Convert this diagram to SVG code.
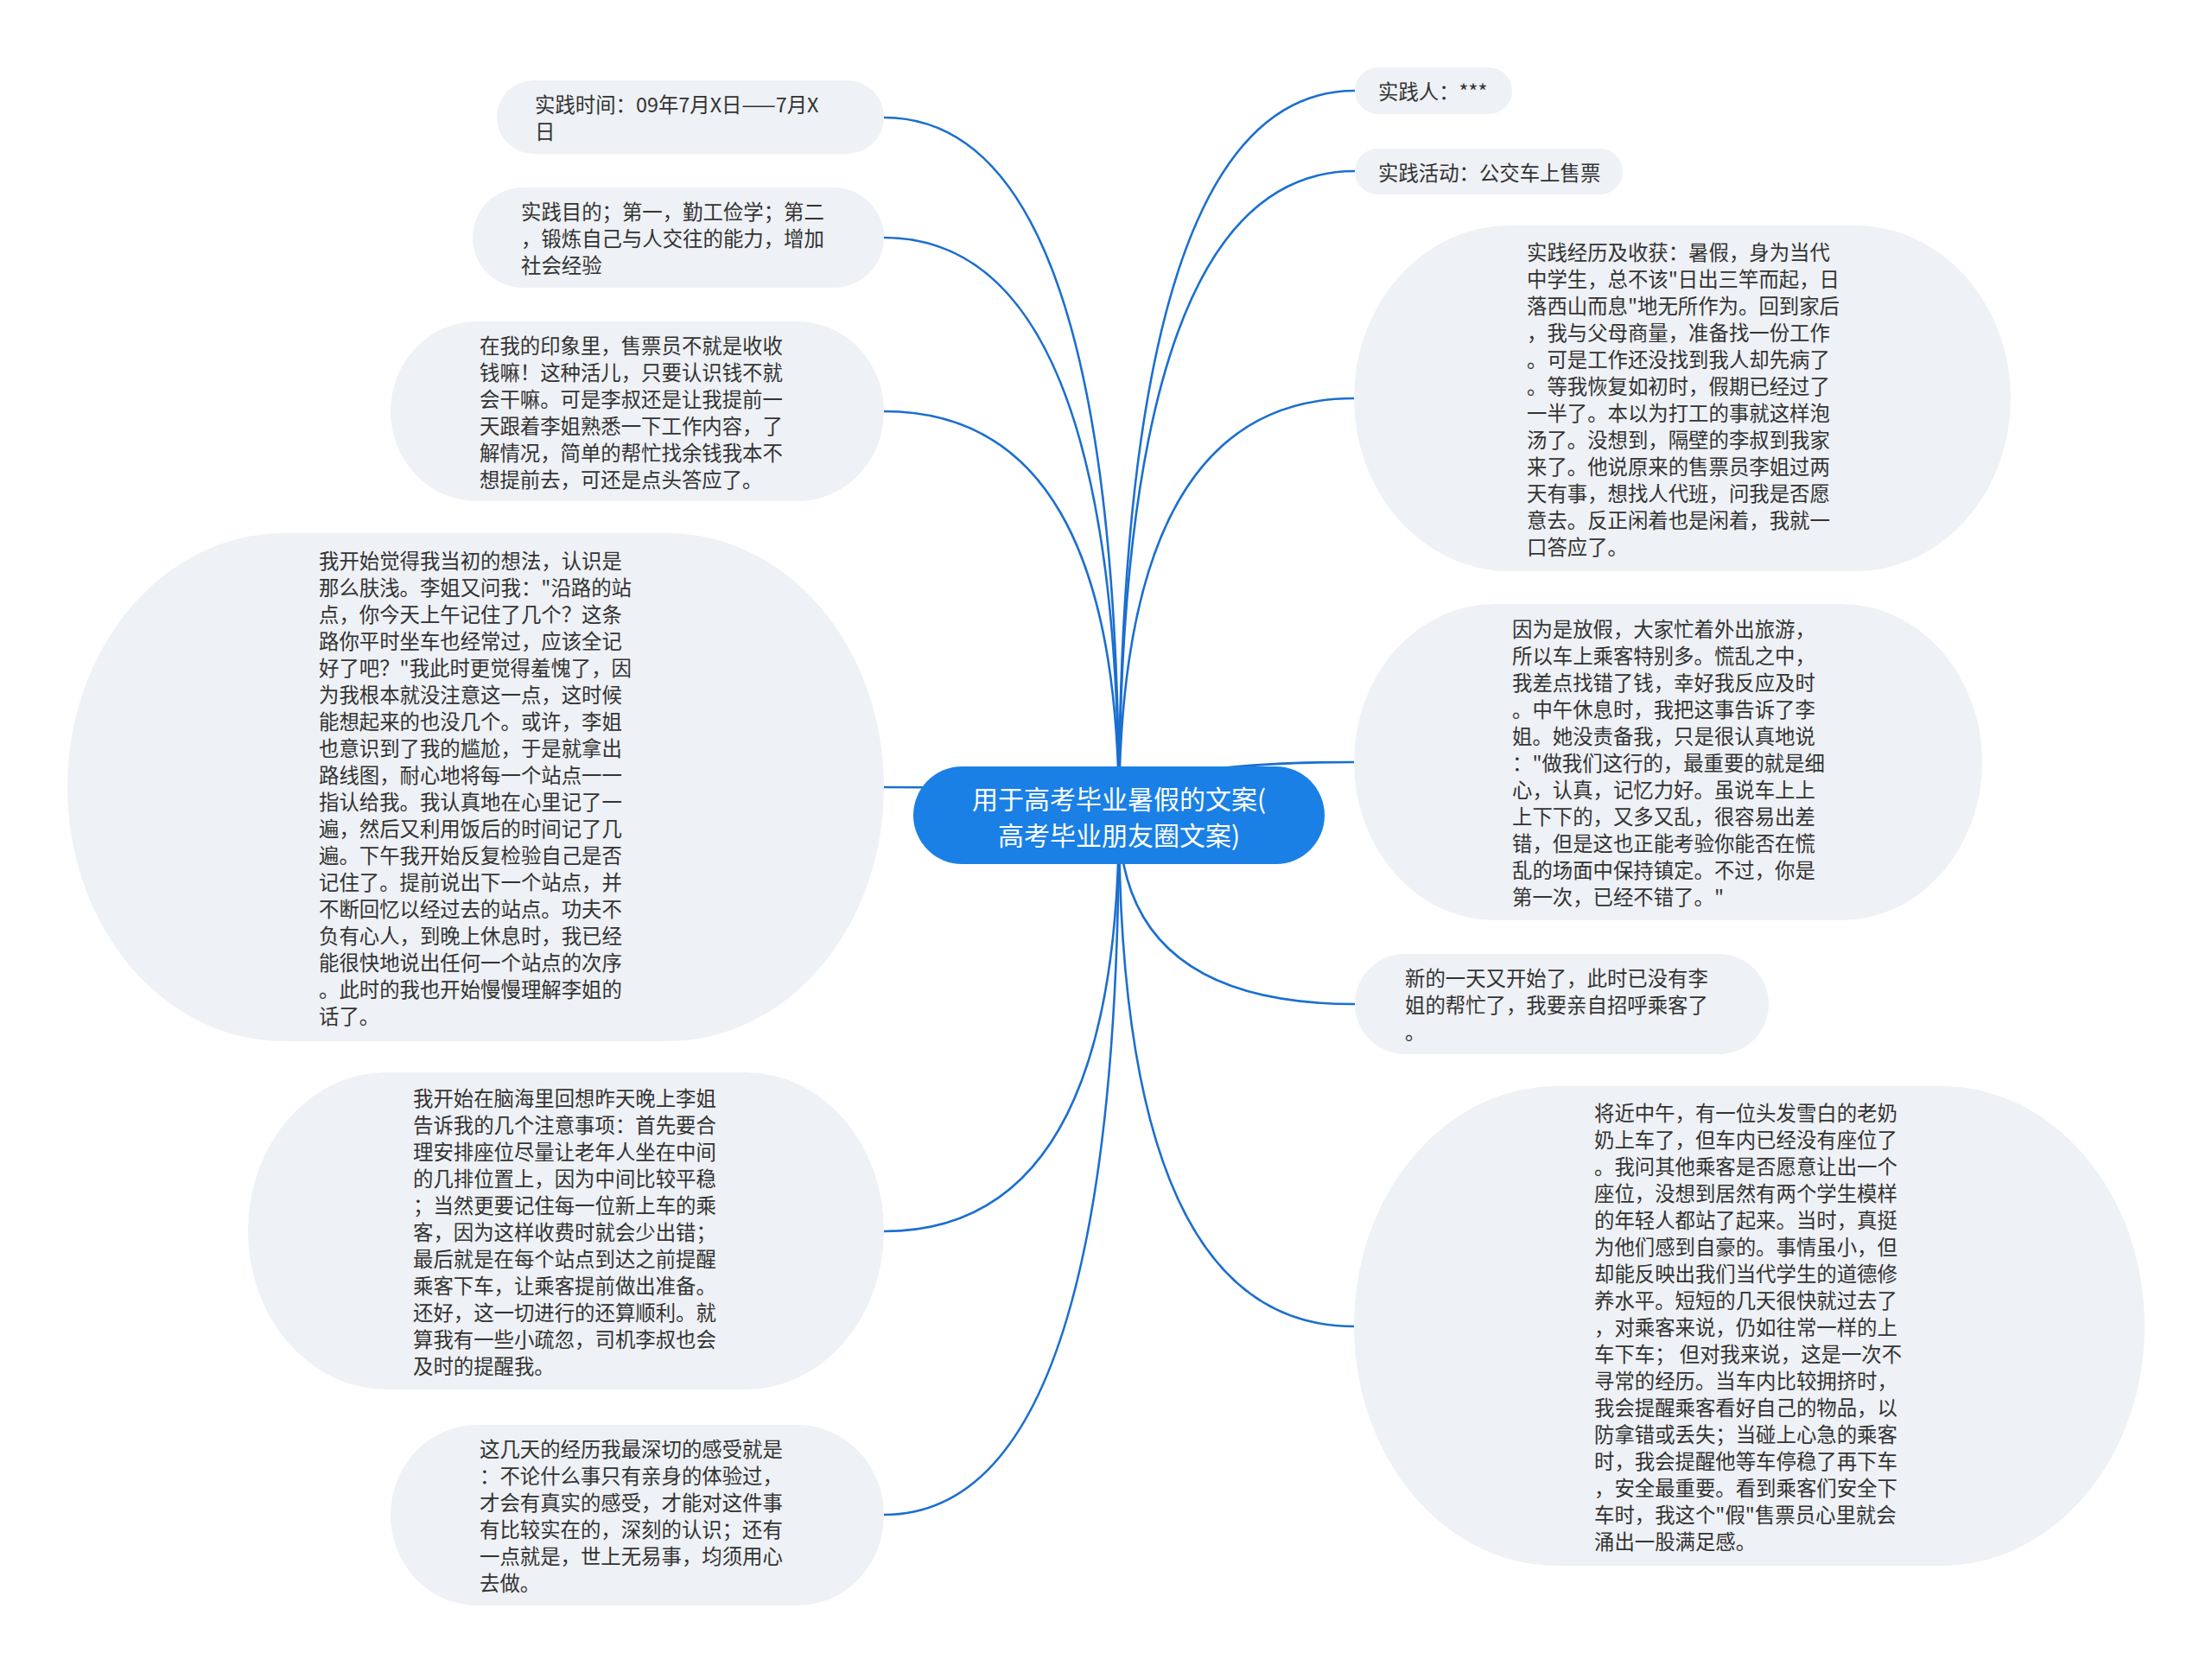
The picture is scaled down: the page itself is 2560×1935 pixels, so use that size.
<svg xmlns="http://www.w3.org/2000/svg" width="2560" height="1935" viewBox="0 0 2560 1935">
<style>
.bg{fill:#ffffff}
.node{fill:#eef1f5}
.root{fill:#1a80e5}
.t{font-family:"Noto Sans CJK SC","Noto Sans",sans-serif;font-size:23.4px;fill:#333333;dominant-baseline:central}
.rt{font-family:"Noto Sans CJK SC","Noto Sans",sans-serif;font-size:30px;fill:#ffffff;dominant-baseline:central;text-anchor:middle}
.c{fill:none;stroke:#1b6fcf;stroke-width:2.6}
</style>
<rect class="bg" x="0" y="0" width="2560" height="1935"/>
<g id="connectors">
<path class="c" d="M1295 943 Q1295 136 1023 136"/>
<path class="c" d="M1295 943 Q1295 275 1023 275"/>
<path class="c" d="M1295 943 Q1295 476 1023 476"/>
<path class="c" d="M1295 943 Q1295 911 1023 911"/>
<path class="c" d="M1295 943 Q1295 1425 1023 1425"/>
<path class="c" d="M1295 943 Q1295 1753 1023 1753"/>
<path class="c" d="M1295 943 Q1295 105 1568 105"/>
<path class="c" d="M1295 943 Q1295 198 1568 198"/>
<path class="c" d="M1295 943 Q1295 461 1567 461"/>
<path class="c" d="M1295 943 Q1295 882 1567 882"/>
<path class="c" d="M1295 943 Q1295 1162 1568 1162"/>
<path class="c" d="M1295 943 Q1295 1535 1567 1535"/>
</g>
<g id="root">
<rect class="root" x="1057" y="887" width="476" height="113" rx="56.5"/>
<text class="rt" x="1295" y="923">用于高考毕业暑假的文案(</text>
<text class="rt" x="1295" y="965">高考毕业朋友圈文案)</text>
</g>
<g id="n-time">
<rect class="node" x="575" y="93" width="448" height="85" rx="42.5"/>
<text class="t" x="619" y="120">实践时间：09年7月X日——7月X</text>
<text class="t" x="619" y="151">日</text>
</g>
<g id="n-purpose">
<rect class="node" x="547" y="217" width="476" height="116" rx="58"/>
<text class="t" x="603" y="244">实践目的；第一，勤工俭学；第二</text>
<text class="t" x="603" y="275">，锻炼自己与人交往的能力，增加</text>
<text class="t" x="603" y="306">社会经验</text>
</g>
<g id="n-impression">
<rect class="node" x="452" y="372" width="571" height="208" rx="100" ry="104"/>
<text class="t" x="555" y="398.5">在我的印象里，售票员不就是收收</text>
<text class="t" x="555" y="429.5">钱嘛！这种活儿，只要认识钱不就</text>
<text class="t" x="555" y="460.5">会干嘛。可是李叔还是让我提前一</text>
<text class="t" x="555" y="491.5">天跟着李姐熟悉一下工作内容，了</text>
<text class="t" x="555" y="522.5">解情况，简单的帮忙找余钱我本不</text>
<text class="t" x="555" y="553.5">想提前去，可还是点头答应了。</text>
</g>
<g id="n-stations">
<rect class="node" x="78" y="617" width="945" height="588" rx="250" ry="294"/>
<text class="t" x="369" y="647.5">我开始觉得我当初的想法，认识是</text>
<text class="t" x="369" y="678.5">那么肤浅。李姐又问我："沿路的站</text>
<text class="t" x="369" y="709.5">点，你今天上午记住了几个？这条</text>
<text class="t" x="369" y="740.5">路你平时坐车也经常过，应该全记</text>
<text class="t" x="369" y="771.5">好了吧？"我此时更觉得羞愧了，因</text>
<text class="t" x="369" y="802.5">为我根本就没注意这一点，这时候</text>
<text class="t" x="369" y="833.5">能想起来的也没几个。或许，李姐</text>
<text class="t" x="369" y="864.5">也意识到了我的尴尬，于是就拿出</text>
<text class="t" x="369" y="895.5">路线图，耐心地将每一个站点一一</text>
<text class="t" x="369" y="926.5">指认给我。我认真地在心里记了一</text>
<text class="t" x="369" y="957.5">遍，然后又利用饭后的时间记了几</text>
<text class="t" x="369" y="988.5">遍。下午我开始反复检验自己是否</text>
<text class="t" x="369" y="1019.5">记住了。提前说出下一个站点，并</text>
<text class="t" x="369" y="1050.5">不断回忆以经过去的站点。功夫不</text>
<text class="t" x="369" y="1081.5">负有心人，到晚上休息时，我已经</text>
<text class="t" x="369" y="1112.5">能很快地说出任何一个站点的次序</text>
<text class="t" x="369" y="1143.5">。此时的我也开始慢慢理解李姐的</text>
<text class="t" x="369" y="1174.5">话了。</text>
</g>
<g id="n-notes">
<rect class="node" x="287" y="1241" width="736" height="367" rx="160" ry="183.5"/>
<text class="t" x="478" y="1269.5">我开始在脑海里回想昨天晚上李姐</text>
<text class="t" x="478" y="1300.5">告诉我的几个注意事项：首先要合</text>
<text class="t" x="478" y="1331.5">理安排座位尽量让老年人坐在中间</text>
<text class="t" x="478" y="1362.5">的几排位置上，因为中间比较平稳</text>
<text class="t" x="478" y="1393.5">；当然更要记住每一位新上车的乘</text>
<text class="t" x="478" y="1424.5">客，因为这样收费时就会少出错；</text>
<text class="t" x="478" y="1455.5">最后就是在每个站点到达之前提醒</text>
<text class="t" x="478" y="1486.5">乘客下车，让乘客提前做出准备。</text>
<text class="t" x="478" y="1517.5">还好，这一切进行的还算顺利。就</text>
<text class="t" x="478" y="1548.5">算我有一些小疏忽，司机李叔也会</text>
<text class="t" x="478" y="1579.5">及时的提醒我。</text>
</g>
<g id="n-feeling">
<rect class="node" x="452" y="1649" width="571" height="209" rx="100" ry="104.5"/>
<text class="t" x="555" y="1676">这几天的经历我最深切的感受就是</text>
<text class="t" x="555" y="1707">：不论什么事只有亲身的体验过，</text>
<text class="t" x="555" y="1738">才会有真实的感受，才能对这件事</text>
<text class="t" x="555" y="1769">有比较实在的，深刻的认识；还有</text>
<text class="t" x="555" y="1800">一点就是，世上无易事，均须用心</text>
<text class="t" x="555" y="1831">去做。</text>
</g>
<g id="n-person">
<rect class="node" x="1568" y="78" width="182" height="54" rx="27"/>
<text class="t" x="1595" y="105">实践人：***</text>
</g>
<g id="n-activity">
<rect class="node" x="1568" y="172" width="310" height="53" rx="26.5"/>
<text class="t" x="1595" y="198.5">实践活动：公交车上售票</text>
</g>
<g id="n-experience">
<rect class="node" x="1567" y="261" width="760" height="400" rx="180" ry="200"/>
<text class="t" x="1767" y="290.5">实践经历及收获：暑假，身为当代</text>
<text class="t" x="1767" y="321.5">中学生，总不该"日出三竿而起，日</text>
<text class="t" x="1767" y="352.5">落西山而息"地无所作为。回到家后</text>
<text class="t" x="1767" y="383.5">，我与父母商量，准备找一份工作</text>
<text class="t" x="1767" y="414.5">。可是工作还没找到我人却先病了</text>
<text class="t" x="1767" y="445.5">。等我恢复如初时，假期已经过了</text>
<text class="t" x="1767" y="476.5">一半了。本以为打工的事就这样泡</text>
<text class="t" x="1767" y="507.5">汤了。没想到，隔壁的李叔到我家</text>
<text class="t" x="1767" y="538.5">来了。他说原来的售票员李姐过两</text>
<text class="t" x="1767" y="569.5">天有事，想找人代班，问我是否愿</text>
<text class="t" x="1767" y="600.5">意去。反正闲着也是闲着，我就一</text>
<text class="t" x="1767" y="631.5">口答应了。</text>
</g>
<g id="n-busy">
<rect class="node" x="1567" y="699" width="727" height="366" rx="163" ry="183"/>
<text class="t" x="1750" y="727">因为是放假，大家忙着外出旅游，</text>
<text class="t" x="1750" y="758">所以车上乘客特别多。慌乱之中，</text>
<text class="t" x="1750" y="789">我差点找错了钱，幸好我反应及时</text>
<text class="t" x="1750" y="820">。中午休息时，我把这事告诉了李</text>
<text class="t" x="1750" y="851">姐。她没责备我，只是很认真地说</text>
<text class="t" x="1750" y="882">："做我们这行的，最重要的就是细</text>
<text class="t" x="1750" y="913">心，认真，记忆力好。虽说车上上</text>
<text class="t" x="1750" y="944">上下下的，又多又乱，很容易出差</text>
<text class="t" x="1750" y="975">错，但是这也正能考验你能否在慌</text>
<text class="t" x="1750" y="1006">乱的场面中保持镇定。不过，你是</text>
<text class="t" x="1750" y="1037">第一次，已经不错了。"</text>
</g>
<g id="n-newday">
<rect class="node" x="1568" y="1104" width="479" height="116" rx="58"/>
<text class="t" x="1626" y="1131">新的一天又开始了，此时已没有李</text>
<text class="t" x="1626" y="1162">姐的帮忙了，我要亲自招呼乘客了</text>
<text class="t" x="1626" y="1193">。</text>
</g>
<g id="n-grandma">
<rect class="node" x="1567" y="1257" width="915" height="555" rx="235" ry="277.5"/>
<text class="t" x="1845" y="1286.5">将近中午，有一位头发雪白的老奶</text>
<text class="t" x="1845" y="1317.5">奶上车了，但车内已经没有座位了</text>
<text class="t" x="1845" y="1348.5">。我问其他乘客是否愿意让出一个</text>
<text class="t" x="1845" y="1379.5">座位，没想到居然有两个学生模样</text>
<text class="t" x="1845" y="1410.5">的年轻人都站了起来。当时，真挺</text>
<text class="t" x="1845" y="1441.5">为他们感到自豪的。事情虽小，但</text>
<text class="t" x="1845" y="1472.5">却能反映出我们当代学生的道德修</text>
<text class="t" x="1845" y="1503.5">养水平。短短的几天很快就过去了</text>
<text class="t" x="1845" y="1534.5">，对乘客来说，仍如往常一样的上</text>
<text class="t" x="1845" y="1565.5">车下车； 但对我来说，这是一次不</text>
<text class="t" x="1845" y="1596.5">寻常的经历。当车内比较拥挤时，</text>
<text class="t" x="1845" y="1627.5">我会提醒乘客看好自己的物品，以</text>
<text class="t" x="1845" y="1658.5">防拿错或丢失；当碰上心急的乘客</text>
<text class="t" x="1845" y="1689.5">时，我会提醒他等车停稳了再下车</text>
<text class="t" x="1845" y="1720.5">，安全最重要。看到乘客们安全下</text>
<text class="t" x="1845" y="1751.5">车时，我这个"假"售票员心里就会</text>
<text class="t" x="1845" y="1782.5">涌出一股满足感。</text>
</g>
</svg>
